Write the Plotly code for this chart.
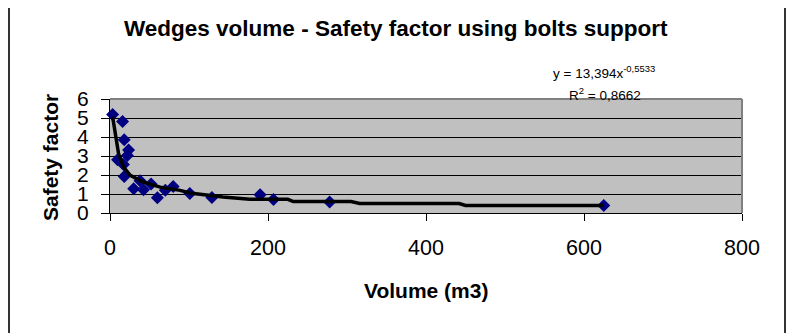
import plotly.graph_objects as go

# Data
volume = [3.3, 15.9, 18, 23.5, 22, 9.6, 17, 18, 30, 38, 42.4, 52, 60, 70, 80, 101, 129, 190, 207, 278, 625]
safety = [5.18, 4.82, 3.85, 3.32, 3.03, 2.8, 2.55, 1.92, 1.28, 1.7, 1.23, 1.52, 0.8, 1.2, 1.40, 1.02, 0.81, 0.96, 0.71, 0.58, 0.40]

# Trend line (power fit) as drawn in the reference
trend_x = [3.3, 6.7, 10.9, 17.2, 25.6, 42.4, 63.5, 88.8, 101, 143, 177, 225, 232, 305, 316, 442, 450, 625]
trend_y = [5.07, 4.16, 3.11, 2.41, 1.98, 1.63, 1.36, 1.19, 1.05, 0.84, 0.73, 0.72, 0.6, 0.6, 0.5, 0.5, 0.4, 0.4]

title_text = "Wedges volume - Safety factor using bolts support"
x_title = "Volume (m3)"
y_title = "Safety factor"
eq_text = "y = 13,394x<sup>-0,5533</sup>"
r2_text = "R<sup>2</sup> = 0,8662"

FONT = "Liberation Sans, Arial, sans-serif"

OFF = 8  # default page body margin
W, H = 794 - OFF, 333 - OFF
L, R, T, B = 110 - OFF, 742 - OFF, 99 - OFF, 213 - OFF  # plot area in figure pixels


def px(x):
    # x given in page pixels
    return (x - OFF - L) / (R - L)


def py(y):
    return (B - (y - OFF)) / (B - T)


fig = go.Figure()
fig.add_trace(go.Scatter(
    x=volume, y=safety, mode="markers",
    marker=dict(symbol="diamond", size=10, color="#000080",
                line=dict(width=0)),
    showlegend=False, cliponaxis=False,
))
fig.add_trace(go.Scatter(
    x=trend_x, y=trend_y, mode="lines",
    line=dict(color="black", width=3.5),
    showlegend=False,
))

fig.update_layout(
    width=W, height=H,
    margin=dict(l=L, r=W - R, t=T, b=H - B, pad=0),
    paper_bgcolor="white",
    plot_bgcolor="#C0C0C0",
    font=dict(family=FONT, color="black"),
    xaxis=dict(
        range=[0, 800], tickvals=[0, 200, 400, 600, 800],
        showgrid=False, zeroline=False,
        showline=True, linecolor="black", linewidth=1,
        ticks="outside", ticklen=7, tickcolor="black", tickwidth=1,
        tickfont=dict(size=21.5, family=FONT, color="black"),
        ticklabelstandoff=8,
    ),
    yaxis=dict(
        range=[0, 6], tickvals=[0, 1, 2, 3, 4, 5, 6],
        showgrid=True, gridcolor="black", gridwidth=1,
        zeroline=False,
        showline=True, linecolor="black", linewidth=1,
        ticks="outside", ticklen=8, tickcolor="black", tickwidth=1,
        tickfont=dict(size=21, family=FONT, color="black"),
        ticklabelstandoff=8,
    ),
    shapes=[
        # outer chart frame
        dict(type="rect", xref="paper", yref="paper",
             x0=px(9), x1=px(785), y0=py(345), y1=py(3),
             line=dict(color="#333333", width=2), layer="below"),
        # gray plot border top and right
        dict(type="line", xref="paper", yref="paper",
             x0=0, x1=1, y0=1, y1=1,
             line=dict(color="#808080", width=2), layer="above"),
        dict(type="line", xref="paper", yref="paper",
             x0=1, x1=1, y0=0, y1=1,
             line=dict(color="#808080", width=2), layer="above"),
    ],
    annotations=[
        dict(text="<b>" + title_text + "</b>", xref="paper", yref="paper",
             x=px(396), y=py(28), xanchor="center", yanchor="middle",
             showarrow=False, font=dict(size=22.5, family=FONT, color="black")),
        dict(text="<b>" + x_title + "</b>", xref="paper", yref="paper",
             x=px(426), y=py(290), xanchor="center", yanchor="middle",
             showarrow=False, font=dict(size=21, family=FONT, color="black")),
        dict(text="<b>" + y_title + "</b>", xref="paper", yref="paper",
             x=px(50), y=py(157), xanchor="center", yanchor="middle",
             textangle=-90,
             showarrow=False, font=dict(size=21, family=FONT, color="black")),
        dict(text=eq_text, xref="paper", yref="paper",
             x=px(604), y=py(72), xanchor="center", yanchor="middle",
             showarrow=False, font=dict(size=13.5, family=FONT, color="black")),
        dict(text=r2_text, xref="paper", yref="paper",
             x=px(605), y=py(94), xanchor="center", yanchor="middle",
             showarrow=False, font=dict(size=13.5, family=FONT, color="black")),
    ],
)

fig.write_html("out.html")
